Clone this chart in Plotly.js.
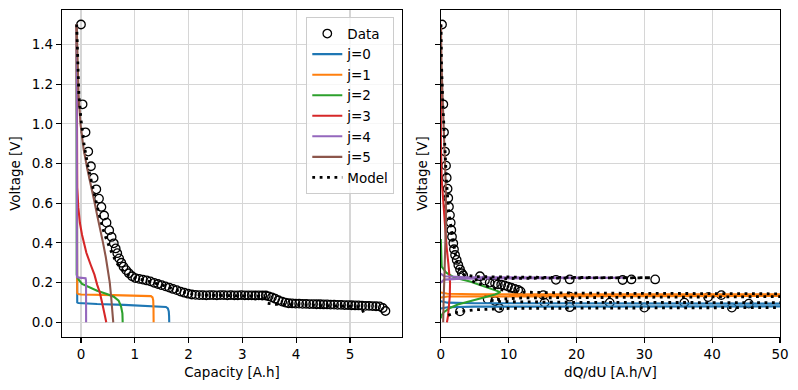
<!DOCTYPE html>
<html><head><meta charset="utf-8">
<script src="https://cdn.plot.ly/plotly-3.0.1.min.js"></script>
<style>html,body{margin:0;padding:0;background:#fff}#plot{width:798px;height:390px}</style>
</head><body><div id="plot"></div>
<script>
// ---- measured data (left: capacity vs voltage) ----
const capData = [0.00,0.03,0.085,0.135,0.185,0.235,0.285,0.335,0.38,0.43,0.475,0.525,0.57,0.61,0.645,0.675,0.71,0.75,0.79,0.84,0.89,0.95,1.01,1.08,
1.15,1.22,1.29,1.36,1.43,1.50,1.57,1.64,1.71,1.78,1.85,1.92,1.99,2.06,2.13,
2.20,2.265,2.33,2.395,2.46,2.525,2.59,2.655,2.72,2.785,2.85,2.915,2.98,3.045,3.11,3.175,3.24,3.305,3.37,3.435,
3.49,3.55,3.61,3.67,3.74,3.80,3.86,
3.925,3.99,4.055,4.12,4.185,4.25,4.315,4.38,4.445,4.51,4.575,4.64,4.705,4.77,4.835,4.90,4.965,5.03,5.095,5.16,5.225,5.29,5.355,5.42,5.485,5.55,5.61,5.66];
const voltData = [1.500,1.098,0.957,0.860,0.786,0.727,0.670,0.623,0.581,0.538,0.502,0.464,0.430,0.398,0.372,0.348,0.322,0.300,0.280,0.263,0.247,0.232,0.223,0.219,
0.215,0.211,0.206,0.199,0.193,0.187,0.181,0.175,0.168,0.162,0.155,0.149,0.144,0.140,0.138,
0.137,0.137,0.136,0.137,0.137,0.136,0.137,0.137,0.136,0.137,0.136,0.136,0.137,0.136,0.136,0.136,0.135,0.136,0.135,0.135,
0.131,0.126,0.119,0.111,0.104,0.099,0.096,
0.095,0.094,0.094,0.093,0.093,0.092,0.092,0.091,0.091,0.090,0.090,0.089,0.089,0.088,0.088,0.087,0.087,0.086,0.085,0.085,0.084,0.083,0.083,0.082,0.081,0.080,0.072,0.057];

// ---- measured data (right: dQ/dU vs voltage) ----
const dqdvData = [0.18,0.37,0.47,0.62,0.77,0.87,1.0,1.1,1.2,1.35,1.46,1.55,1.65,1.84,1.94,2.1,2.34,2.58,2.83,3.1,3.3,
5.77,6.5,7.2,8.0,8.4,8.9,9.4,9.9,10.4,10.9,11.4,11.75,
16.97,19.0,26.8,28.1,31.6,
15.1,19.0,39.4,41.35,
15.3,19.0,24.9,30.0,35.9,42.9,45.4,
2.83,8.6,6.9,8.0];
const voltDqdv = [1.5,1.098,0.957,0.86,0.789,0.728,0.673,0.626,0.582,0.54,0.502,0.465,0.431,0.398,0.368,0.339,0.314,0.289,0.267,0.247,0.237,
0.232,0.21,0.2,0.196,0.191,0.19,0.186,0.18,0.174,0.168,0.163,0.156,
0.214,0.216,0.213,0.216,0.216,
0.137,0.129,0.127,0.137,
0.099,0.076,0.099,0.074,0.099,0.074,0.094,
0.055,0.072,0.117,0.107];

// ---- component curves, capacity side ----
const j0Cap = [-0.08,-0.08,-0.07,-0.05,0.0,0.3,0.8,1.2,1.5,1.58,1.615,1.632,1.638,1.64];
const j0V   = [1.5,0.108,0.100,0.097,0.096,0.092,0.088,0.084,0.080,0.077,0.070,0.055,0.030,0.0];
const j1Cap = [-0.08,-0.08,-0.07,-0.05,0.0,0.6,1.2,1.30,1.33,1.343,1.348,1.35];
const j1V   = [1.5,0.158,0.148,0.142,0.140,0.137,0.134,0.132,0.126,0.110,0.070,0.0];
const j2Cap = [-0.08,-0.08,-0.065,-0.04,0.02,0.145,0.30,0.48,0.61,0.70,0.745,0.77,0.775];
const j2V   = [1.5,0.24,0.225,0.213,0.193,0.176,0.159,0.143,0.129,0.109,0.079,0.045,0.0];
const j3Cap = [-0.08,-0.08,-0.07,-0.05,-0.02,0.02,0.06,0.10,0.18,0.25,0.30,0.35,0.40,0.44,0.47];
const j3V   = [1.5,0.80,0.68,0.58,0.50,0.44,0.39,0.35,0.29,0.24,0.19,0.15,0.09,0.04,0.0];
const j4Cap = [-0.08,-0.08,-0.075,-0.04,0.06,0.085,0.092,0.094,0.095];
const j4V   = [1.5,0.235,0.228,0.225,0.224,0.222,0.212,0.19,0.0];
const j5Cap = [-0.08,-0.065,-0.045,-0.01,0.05,0.12,0.18,0.24,0.30,0.36,0.41,0.46,0.50,0.535,0.56,0.58,0.60];
const j5V   = [1.5,1.35,1.15,1.0,0.87,0.77,0.70,0.62,0.54,0.47,0.40,0.33,0.265,0.20,0.13,0.065,0.0];
const modelCap = [-0.08,-0.06,-0.04,0.0,0.055,0.13,0.20,0.27,0.34,0.43,0.54,0.66,0.78,0.90,1.0,1.15,1.35,1.6,1.85,2.05,2.3,2.8,3.3,3.40,3.44,3.47,3.59,3.9,4.4,4.9,5.15,5.22,5.28];
const modelV   = [1.5,1.35,1.15,1.02,0.90,0.784,0.70,0.616,0.54,0.45,0.37,0.30,0.26,0.233,0.222,0.214,0.200,0.180,0.155,0.143,0.137,0.135,0.134,0.130,0.113,0.096,0.091,0.089,0.087,0.083,0.079,0.070,0.032];

// ---- component curves, dQ/dU side ----
const j0Dq = [0,1,5,50,300,50,5,1,0];
const j0DqV = [0.106,0.099,0.096,0.094,0.087,0.082,0.079,0.076,0.070];
const j1Dq = [0,1,5,50,300,50,5,1,0];
const j1DqV = [0.150,0.144,0.1415,0.1405,0.1365,0.1325,0.1315,0.130,0.125];
const j2Dq = [0,0.13,0.8,2.0,4.3,6.5,8.0,8.8,8.0,6.0,4.3,2.5,1.35,0.4,0.1,0];
const j2DqV = [0.42,0.28,0.25,0.225,0.205,0.18,0.163,0.152,0.14,0.122,0.106,0.09,0.072,0.05,0.035,0.02];
const j3Dq = [0,0.01,0.13,0.35,0.6,0.85,1.1,1.3,1.36,1.32,1.2,1.05,0.9];
const j3DqV = [1.5,0.9,0.72,0.6,0.48,0.38,0.30,0.24,0.20,0.13,0.07,0.03,0.0];
const j4Dq = [0,0.5,3,15,27,15,3,0.5,0];
const j4DqV = [0.245,0.232,0.228,0.2255,0.224,0.2225,0.22,0.215,0.20];
const j5Dq = [0.02,0.1,0.3,0.55,0.72,0.78,0.72,0.55,0.42,0.35];
const j5DqV = [1.5,1.3,1.1,0.9,0.7,0.55,0.4,0.25,0.12,0.0];
const modelDq = [0.03,0.1,0.3,0.55,0.85,1.2,1.6,2.0,2.4,2.8,3.4,5,15,31,15,6,4.5,5.5,7.5,9.5,12,20,50,300,50,20,12,9,7.5,9,20,50,300,50,20,10,5,3,1.8,0.87];
const modelDqV = [1.5,1.3,1.1,0.9,0.7,0.55,0.45,0.37,0.30,0.26,0.24,0.23,0.2265,0.2245,0.2225,0.219,0.21,0.195,0.175,0.16,0.152,0.147,0.1435,0.137,0.1295,0.127,0.123,0.117,0.11,0.104,0.1005,0.099,0.087,0.0745,0.073,0.07,0.063,0.055,0.045,0.032];

const names = ['j=0','j=1','j=2','j=3','j=4','j=5'];
const colors = ['#1f77b4','#ff7f0e','#2ca02c','#d62728','#9467bd','#8c564b'];
const capSets = [[j0Cap,j0V],[j1Cap,j1V],[j2Cap,j2V],[j3Cap,j3V],[j4Cap,j4V],[j5Cap,j5V]];
const dqSets = [[j0Dq,j0DqV],[j1Dq,j1DqV],[j2Dq,j2DqV],[j3Dq,j3DqV],[j4Dq,j4DqV],[j5Dq,j5DqV]];

const LW = 2.08;
const traces = [];
traces.push({x:capData,y:voltData,mode:'markers',name:'Data',type:'scatter',
  marker:{symbol:'circle-open',size:8.5,color:'#000',line:{width:1.3,color:'#000'}},xaxis:'x',yaxis:'y'});
capSets.forEach((s,i)=>traces.push({x:s[0],y:s[1],mode:'lines',name:names[i],type:'scatter',
  line:{color:colors[i],width:LW},xaxis:'x',yaxis:'y'}));
traces.push({x:modelCap,y:modelV,mode:'lines',name:'Model',type:'scatter',
  line:{color:'#000',width:2.8,dash:'2.8px,4.6px'},xaxis:'x',yaxis:'y'});
traces.push({x:dqdvData,y:voltDqdv,mode:'markers',showlegend:false,type:'scatter',
  marker:{symbol:'circle-open',size:8.5,color:'#000',line:{width:1.3,color:'#000'}},xaxis:'x2',yaxis:'y2'});
dqSets.forEach((s,i)=>traces.push({x:s[0],y:s[1],mode:'lines',showlegend:false,type:'scatter',
  line:{color:colors[i],width:LW},xaxis:'x2',yaxis:'y2'}));
traces.push({x:modelDq,y:modelDqV,mode:'lines',showlegend:false,type:'scatter',
  line:{color:'#000',width:2.8,dash:'2.8px,4.6px'},xaxis:'x2',yaxis:'y2'});

const F = {family:'DejaVu Sans, sans-serif',size:13.5,color:'#000'};
const ax = {showline:true,mirror:true,linecolor:'#000',linewidth:1.1,ticks:'outside',ticklen:5,tickwidth:1.1,tickcolor:'#000',
  showgrid:true,gridcolor:'#d6d6d6',gridwidth:1.1,zeroline:false,tickfont:F,automargin:false};
const layout = {
  width:798,height:390,margin:{l:62,r:18,t:10,b:53},paper_bgcolor:'#fff',plot_bgcolor:'#fff',font:F,
  showlegend:true,
  legend:{x:0.4628,y:0.9777,xanchor:'right',yanchor:'top',bgcolor:'rgba(255,255,255,0.8)',bordercolor:'#cccccc',borderwidth:1,
    font:F,tracegroupgap:0,itemwidth:30},
  xaxis:Object.assign({},ax,{domain:[0,0.4735],range:[-0.353,5.967],tick0:0,dtick:1,anchor:'y',
    title:{text:'Capacity [A.h]',font:F,standoff:6}}),
  yaxis:Object.assign({},ax,{domain:[0,1],range:[-0.074,1.573],tick0:0,dtick:0.2,tickformat:'.1f',anchor:'x',
    title:{text:'Voltage [V]',font:F,standoff:8}}),
  xaxis2:Object.assign({},ax,{domain:[0.5276,1],range:[0,50],tick0:0,dtick:10,anchor:'y2',
    title:{text:'dQ/dU [A.h/V]',font:F,standoff:6}}),
  yaxis2:Object.assign({},ax,{domain:[0,1],range:[-0.074,1.573],tick0:0,dtick:0.2,anchor:'x2',showticklabels:false,
    title:{text:'Voltage [V]',font:F,standoff:4}})
};
Plotly.newPlot('plot',traces,layout,{staticPlot:true,displayModeBar:false});
</script></body></html>
